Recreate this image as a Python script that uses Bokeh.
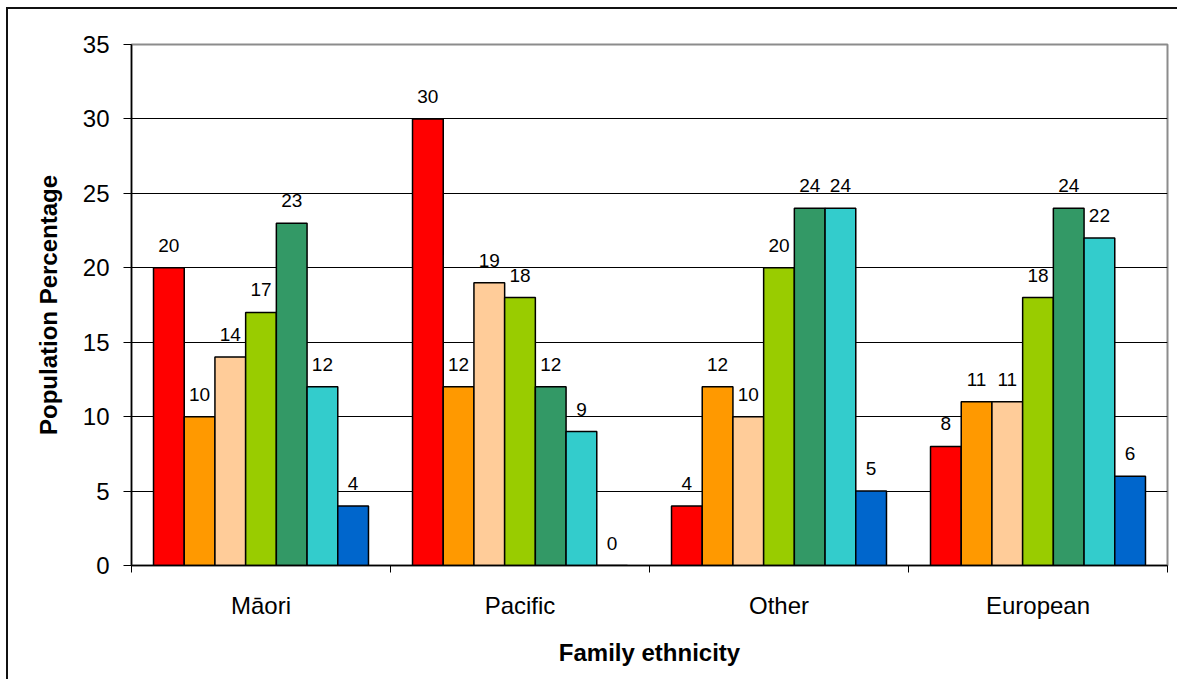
from bokeh.plotting import figure
from bokeh.models import (Range1d, FixedTicker, ColumnDataSource, LabelSet,
                          CustomJSTickFormatter)
from bokeh.core.properties import value
from bokeh.transform import dodge
from bokeh.embed import file_html
from bokeh.resources import INLINE

# Family ethnicity groups and the population percentage of each of the seven series
groups = ["Māori", "Pacific", "Other", "European"]
maori = [20, 10, 14, 17, 23, 12, 4]
pacific = [30, 12, 19, 18, 12, 9, 0]
other = [4, 12, 10, 20, 24, 24, 5]
european = [8, 11, 11, 18, 24, 22, 6]
series_colors = ["#FF0000", "#FF9900", "#FFCC99", "#99CC00",
                 "#339966", "#33CCCC", "#0066CC"]
y_ticks = [0, 5, 10, 15, 20, 25, 30, 35]

FONT = "Liberation Sans"
n_series = len(series_colors)
group_fill = 0.83
bar_w = group_fill / n_series
centers = [i + 0.5 for i in range(len(groups))]

p = figure(width=1171, height=672, output_backend="svg", toolbar_location=None,
           x_range=Range1d(0, len(groups)), y_range=Range1d(0, 35),
           min_border_left=123, min_border_right=12,
           min_border_top=35, min_border_bottom=116,
           background_fill_color="white", border_fill_color="white")
p.styles = {"margin-left": "6px", "margin-top": "7px",
            "border-left": "2px solid #111", "border-top": "2px solid #111"}

p.outline_line_color = "#8c8c8c"
p.outline_line_width = 2

p.xgrid.visible = False
p.ygrid.ticker = FixedTicker(ticks=y_ticks[1:-1])
p.ygrid.grid_line_color = "black"
p.ygrid.grid_line_width = 1

values_by_group = [maori, pacific, other, european]
for k in range(n_series):
    vals = [g[k] for g in values_by_group]
    src = ColumnDataSource(dict(x=centers, value=vals, label=[str(v) for v in vals]))
    off = (k - (n_series - 1) / 2) * bar_w
    p.vbar(x=dodge("x", off), top="value", bottom=0, width=bar_w, source=src,
           fill_color=series_colors[k], line_color="black", line_width=1.5)
    p.add_layout(LabelSet(x=dodge("x", off), y="value", text="label", source=src,
                          text_align="center", text_baseline="alphabetic",
                          y_offset=16, text_font_size="19px",
                          text_font=value(FONT), text_color="black"))

# x axis: group names centred, tick marks on the group boundaries
xa = p.xaxis[0]
xa.ticker = FixedTicker(ticks=centers, minor_ticks=list(range(len(groups) + 1)))
xa.formatter = CustomJSTickFormatter(args=dict(names=groups),
                                     code="return names[Math.floor(tick)];")
xa.major_tick_out = 0
xa.major_tick_in = 0
xa.minor_tick_out = 7
xa.minor_tick_in = 0
xa.minor_tick_line_color = "black"
xa.axis_line_color = "black"
xa.axis_line_width = 1.5
xa.major_label_text_font = FONT
xa.major_label_text_font_size = "24px"
xa.major_label_text_color = "black"
xa.major_label_standoff = 19
xa.axis_label = "Family ethnicity"
xa.axis_label_text_font = FONT
xa.axis_label_text_font_style = "bold"
xa.axis_label_text_font_size = "24px"
xa.axis_label_text_color = "black"
xa.axis_label_standoff = 17

ya = p.yaxis[0]
ya.ticker = FixedTicker(ticks=y_ticks)
ya.minor_tick_line_color = None
ya.major_tick_out = 8
ya.major_tick_in = 0
ya.major_tick_line_color = "black"
ya.axis_line_color = "black"
ya.axis_line_width = 1.5
ya.major_label_text_font = FONT
ya.major_label_text_font_size = "24px"
ya.major_label_text_color = "black"
ya.major_label_standoff = 14
ya.axis_label = "Population Percentage"
ya.axis_label_text_font = FONT
ya.axis_label_text_font_style = "bold"
ya.axis_label_text_font_size = "24px"
ya.axis_label_text_color = "black"
ya.axis_label_standoff = 18

open("out.html", "w").write(file_html(p, INLINE))
